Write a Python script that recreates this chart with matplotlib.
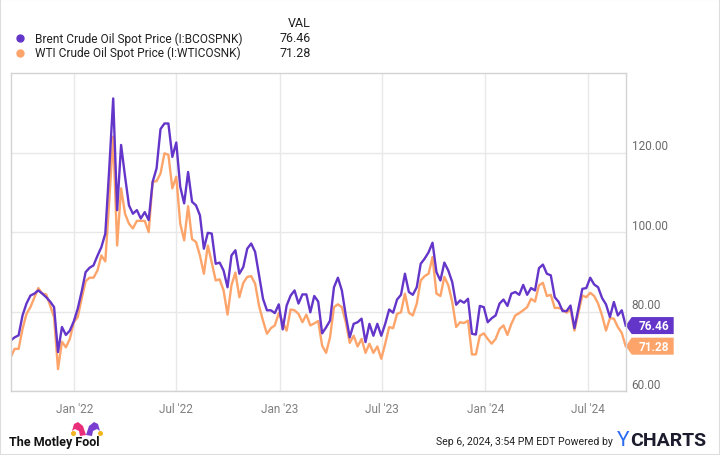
import pandas as pd
import numpy as np
import matplotlib.pyplot as plt
from matplotlib.patches import Polygon, Rectangle
from matplotlib.lines import Line2D

plt.rcParams['font.family'] = ['Roboto', 'DejaVu Sans']

# weekly spot prices (Sep 2021 - Sep 2024)
brent = [72.7, 73.5, 74.0, 79.0, 82.0, 84.0, 84.5, 85.3, 84.5, 83.6,
         82.5, 81.1, 69.8, 76.1, 74.1, 75.2, 77.5, 80.7, 85.0, 89.9,
         91.0, 91.6, 94.0, 96.2, 99.6, 116.0, 133.6, 105.5, 121.9, 114.0,
         106.7, 104.6, 105.5, 103.4, 105.0, 103.0, 112.6, 116.0, 125.9, 127.3,
         127.3, 118.9, 122.5, 111.4, 107.2, 115.1, 107.6, 106.7, 104.2, 95.8,
         99.8, 99.6, 92.0, 92.3, 90.3, 86.1, 94.1, 95.4, 89.5, 91.2,
         95.8, 97.1, 95.0, 89.1, 83.2, 80.3, 80.3, 79.6, 81.8, 75.5,
         81.5, 84.0, 85.3, 82.0, 84.3, 84.3, 79.8, 83.9, 82.5, 74.5,
         76.0, 77.7, 86.1, 88.5, 85.3, 79.0, 73.5, 76.9, 77.3, 78.2,
         72.3, 76.9, 73.9, 76.9, 73.9, 76.9, 80.5, 79.7, 83.0, 84.2,
         89.5, 84.9, 84.2, 86.1, 92.0, 93.3, 94.9, 97.3, 89.9, 87.8,
         92.3, 90.3, 87.4, 81.7, 82.8, 82.2, 83.2, 74.4, 74.2, 81.4,
         81.1, 77.3, 78.3, 79.0, 82.0, 83.0, 81.4, 84.5, 84.9, 84.2,
         86.7, 84.2, 85.9, 85.3, 90.9, 91.8, 89.5, 89.1, 83.6, 82.4,
         80.1, 80.1, 81.5, 75.8, 80.7, 85.7, 85.9, 88.5, 86.8, 86.1,
         83.4, 81.8, 78.6, 82.4, 79.0, 80.3, 76.46]

wti = [68.5, 70.6, 70.6, 75.6, 79.4, 81.1, 83.5, 85.9, 84.5, 84.3,
       81.5, 78.6, 65.5, 72.4, 71.0, 73.1, 77.3, 78.6, 83.2, 87.6,
       88.5, 88.5, 90.3, 94.1, 92.6, 108.0, 124.0, 96.6, 111.0, 104.6,
       102.1, 100.9, 102.8, 102.8, 102.8, 100.0, 112.6, 112.8, 114.7, 119.8,
       119.4, 111.0, 113.9, 102.1, 97.9, 106.5, 98.2, 97.5, 94.1, 89.5,
       96.6, 92.3, 87.8, 88.1, 85.3, 79.2, 86.6, 89.8, 83.6, 87.2,
       88.7, 88.9, 87.0, 81.4, 77.7, 74.4, 75.8, 76.5, 79.6, 77.3,
       75.2, 80.5, 80.3, 79.4, 77.3, 79.2, 76.5, 77.0, 77.6, 71.4,
       69.6, 73.5, 81.1, 81.8, 81.1, 77.3, 72.1, 73.9, 71.2, 73.1,
       69.6, 71.9, 69.6, 71.2, 68.1, 71.9, 76.1, 75.8, 79.4, 79.8,
       84.5, 79.7, 79.0, 82.0, 87.8, 88.9, 89.5, 93.7, 84.5, 83.9,
       88.7, 86.6, 82.4, 76.1, 77.3, 77.1, 77.7, 69.2, 69.2, 73.9,
       74.5, 73.1, 71.9, 73.1, 75.6, 76.5, 74.1, 76.9, 79.0, 79.6,
       80.3, 81.1, 83.2, 82.5, 86.6, 87.2, 83.9, 84.2, 80.9, 80.9,
       80.5, 79.7, 80.5, 75.2, 79.7, 84.0, 83.6, 84.7, 83.9, 82.0,
       79.0, 75.2, 78.3, 78.2, 76.1, 74.6, 71.28]

dates = pd.date_range('2021-09-10', periods=len(brent), freq='7D')

series_names = ['Brent Crude Oil Spot Price (I:BCOSPNK)',
                'WTI Crude Oil Spot Price (I:WTICOSNK)']
tick_dates = pd.to_datetime(['2022-01-01', '2022-07-01', '2023-01-01',
                             '2023-07-01', '2024-01-01', '2024-07-01'])
tick_labels = ["Jan '22", "Jul '22", "Jan '23", "Jul '23", "Jan '24", "Jul '24"]
y_ticks = [60, 80, 100, 120]

purple = '#6435c9'
orange = '#fda46a'

W, H = 720, 456
fig = plt.figure(figsize=(7.2, 4.56), dpi=100)
ax = fig.add_axes([10.7 / W, 1 - 392 / H, 615 / W, 318 / H])

ax.plot(dates, wti, color=orange, lw=1.7, solid_joinstyle='round')
ax.plot(dates, brent, color=purple, lw=1.7, solid_joinstyle='round')

ax.set_xlim(dates[0], dates[-1])
ax.set_ylim(60, 140)
ax.set_xticks(tick_dates)
ax.set_xticklabels(tick_labels)
ax.set_yticks(y_ticks)
ax.set_yticklabels([])
ax.tick_params(length=0, axis='x', colors='#808080', labelsize=8.5, pad=8)
ax.tick_params(length=0, axis='y')
ax.grid(color='#e8e8e8', lw=1)
for s in ax.spines.values():
    s.set_color('#d3d3d3')
    s.set_linewidth(1)

ytr = ax.get_yaxis_transform()
for v in y_ticks:
    ax.text(1 + 6 / 615, v, f'{v:.2f}', transform=ytr, va='bottom', ha='left',
            fontsize=8.5, color='#6a6a6a')

# last value tags
dx = 1 / 615
dy = 8.5 / (318 / 80)
for val, col in [(brent[-1], purple), (wti[-1], orange)]:
    pts = [(1, val), (1 + 6 * dx, val + dy), (1 + 48 * dx, val + dy),
           (1 + 48 * dx, val - dy), (1 + 6 * dx, val - dy)]
    ax.add_patch(Polygon(pts, closed=True, transform=ytr, fc=col, ec='none',
                         clip_on=False))
    ax.text(1 + 28 * dx, val, f'{val:.2f}', transform=ytr, ha='center',
            va='center', color='white', fontsize=8.5, fontweight='bold')

# legend
def fx(x):
    return x / W

def fy(y):
    return 1 - y / H

fig.text(fx(311), fy(24), 'VAL', ha='right', va='center', fontsize=9, color='#222222')
for i, (name, col, vals) in enumerate(zip(series_names, [purple, orange], [brent, wti])):
    yy = 39 + i * 14.5
    fig.add_artist(Line2D([fx(20)], [fy(yy)], marker='o', ms=5, color=col,
                          transform=fig.transFigure))
    fig.text(fx(35), fy(yy), name, ha='left', va='center', fontsize=8.6, color='#222222')
    fig.text(fx(311), fy(yy), f'{vals[-1]:.2f}', ha='right', va='center',
             fontsize=9, color='#222222')

# footer
fig.text(fx(9), fy(443), 'The Motley Fool', ha='left', va='center', fontsize=9,
         fontweight='bold', color='#111111')
hat_l = [(fx(86), fy(436)), (fx(83), fy(427)), (fx(78), fy(423)), (fx(74), fy(425)),
         (fx(72), fy(432)), (fx(75), fy(430)), (fx(79), fy(432)), (fx(80), fy(437))]
hat_r = [(fx(86), fy(436)), (fx(89), fy(427)), (fx(94), fy(423)), (fx(98), fy(425)),
         (fx(100), fy(432)), (fx(97), fy(430)), (fx(93), fy(432)), (fx(92), fy(437))]
fig.add_artist(Polygon(hat_l, closed=True, fc='#ea2f7a', ec='none', transform=fig.transFigure))
fig.add_artist(Polygon(hat_r, closed=True, fc='#7a3fd0', ec='none', transform=fig.transFigure))
for hx in (72.5, 99.5):
    fig.add_artist(Line2D([fx(hx)], [fy(433.5)], marker='o', ms=2.6, color='#f3b61f',
                          transform=fig.transFigure))

fig.text(fx(613), fy(442), 'Sep 6, 2024, 3:54 PM EDT Powered by', ha='right',
         va='center', fontsize=7.6, color='#222222')
fig.text(fx(617), fy(441), 'Y', ha='left', va='center', fontsize=15,
         color='#2b6cf0')
fig.text(fx(630), fy(441), 'CHARTS', ha='left', va='center', fontsize=14,
         fontweight='bold', color='#1c1c2e')

fig.add_artist(Rectangle((0, 0), 1, 1, transform=fig.transFigure, fill=False,
                         ec='#dddddd', lw=1.5))

fig.savefig('out.png', dpi=100)
